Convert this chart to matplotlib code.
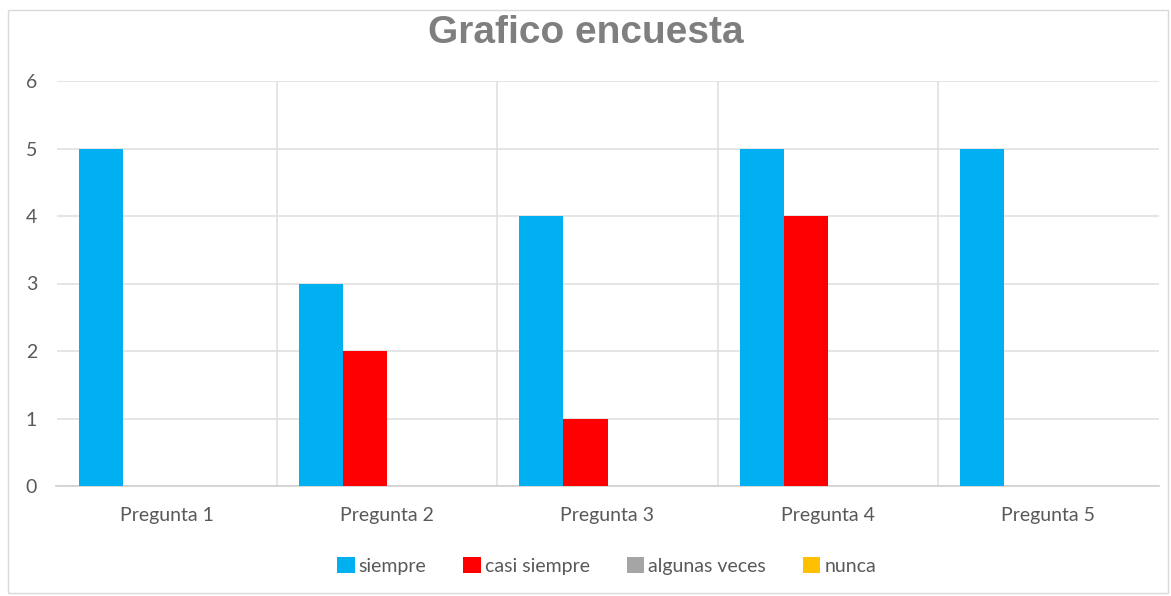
import matplotlib.pyplot as plt
import numpy as np
from matplotlib.patches import Rectangle

preguntas = ['Pregunta 1', 'Pregunta 2', 'Pregunta 3', 'Pregunta 4', 'Pregunta 5']
series = ['siempre', 'casi siempre', 'algunas veces', 'nunca']
siempre = [5, 3, 4, 5, 5]
casi_siempre = [0, 2, 1, 4, 0]
algunas_veces = [0, 0, 0, 0, 0]
nunca = [0, 0, 0, 0, 0]
colores = ['#00B0F0', '#FF0000', '#A5A5A5', '#FFC000']

plt.rcParams['font.family'] = ['Lato', 'DejaVu Sans']

W, H = 1171, 596
fig = plt.figure(figsize=(W / 100, H / 100), dpi=100)
fig.patch.set_facecolor('white')
# marco del grafico
fig.patches.append(Rectangle((8 / W, 1 - 593 / H), (1168 - 8) / W, (593 - 10) / H,
                             transform=fig.transFigure, fill=False,
                             edgecolor='#D9D9D9', linewidth=1))

ax = fig.add_axes([56.5 / W, 1 - 486 / H, (1158.5 - 56.5) / W, (486 - 81) / H])
x = np.arange(len(preguntas))
ancho = 0.2
datos = [siempre, casi_siempre, algunas_veces, nunca]
for i, (nombre, vals) in enumerate(zip(series, datos)):
    ax.bar(x - 0.3 + i * ancho, vals, ancho, color=colores[i], label=nombre, zorder=3)

ax.set_xlim(-0.5, len(preguntas) - 0.5)
ax.set_ylim(0, 6)
ax.set_yticks(range(7))
ax.set_xticks(x)
ax.set_xticklabels(preguntas)
ax.set_xticks(np.arange(0.5, len(preguntas) - 1, 1), minor=True)
ax.grid(axis='y', color='#E0E0E0', linewidth=1.2, zorder=0)
ax.grid(axis='x', which='minor', color='#E0E0E0', linewidth=1.2, zorder=0)
ax.grid(axis='x', which='major', visible=False)
for s in ['top', 'right', 'left']:
    ax.spines[s].set_visible(False)
ax.spines['bottom'].set_color('#D0D0D0')
ax.spines['bottom'].set_linewidth(1.2)
ax.tick_params(axis='both', which='both', length=0, colors='#595959', labelsize=14)
ax.tick_params(axis='x', pad=15)
ax.tick_params(axis='y', pad=14)

fig.text(0.5, 1 - 33 / H, 'Grafico encuesta', ha='center', va='center',
         fontsize=28, fontweight='bold', color='#7F7F7F', family='Liberation Sans')

fig.legend(loc='center', bbox_to_anchor=(0.518, 1 - 566 / H), ncol=4, frameon=False,
           fontsize=14, labelcolor='#595959', handlelength=0.9, handleheight=0.9,
           handletextpad=0.2, columnspacing=1.9)

fig.savefig('out.png', dpi=100)
